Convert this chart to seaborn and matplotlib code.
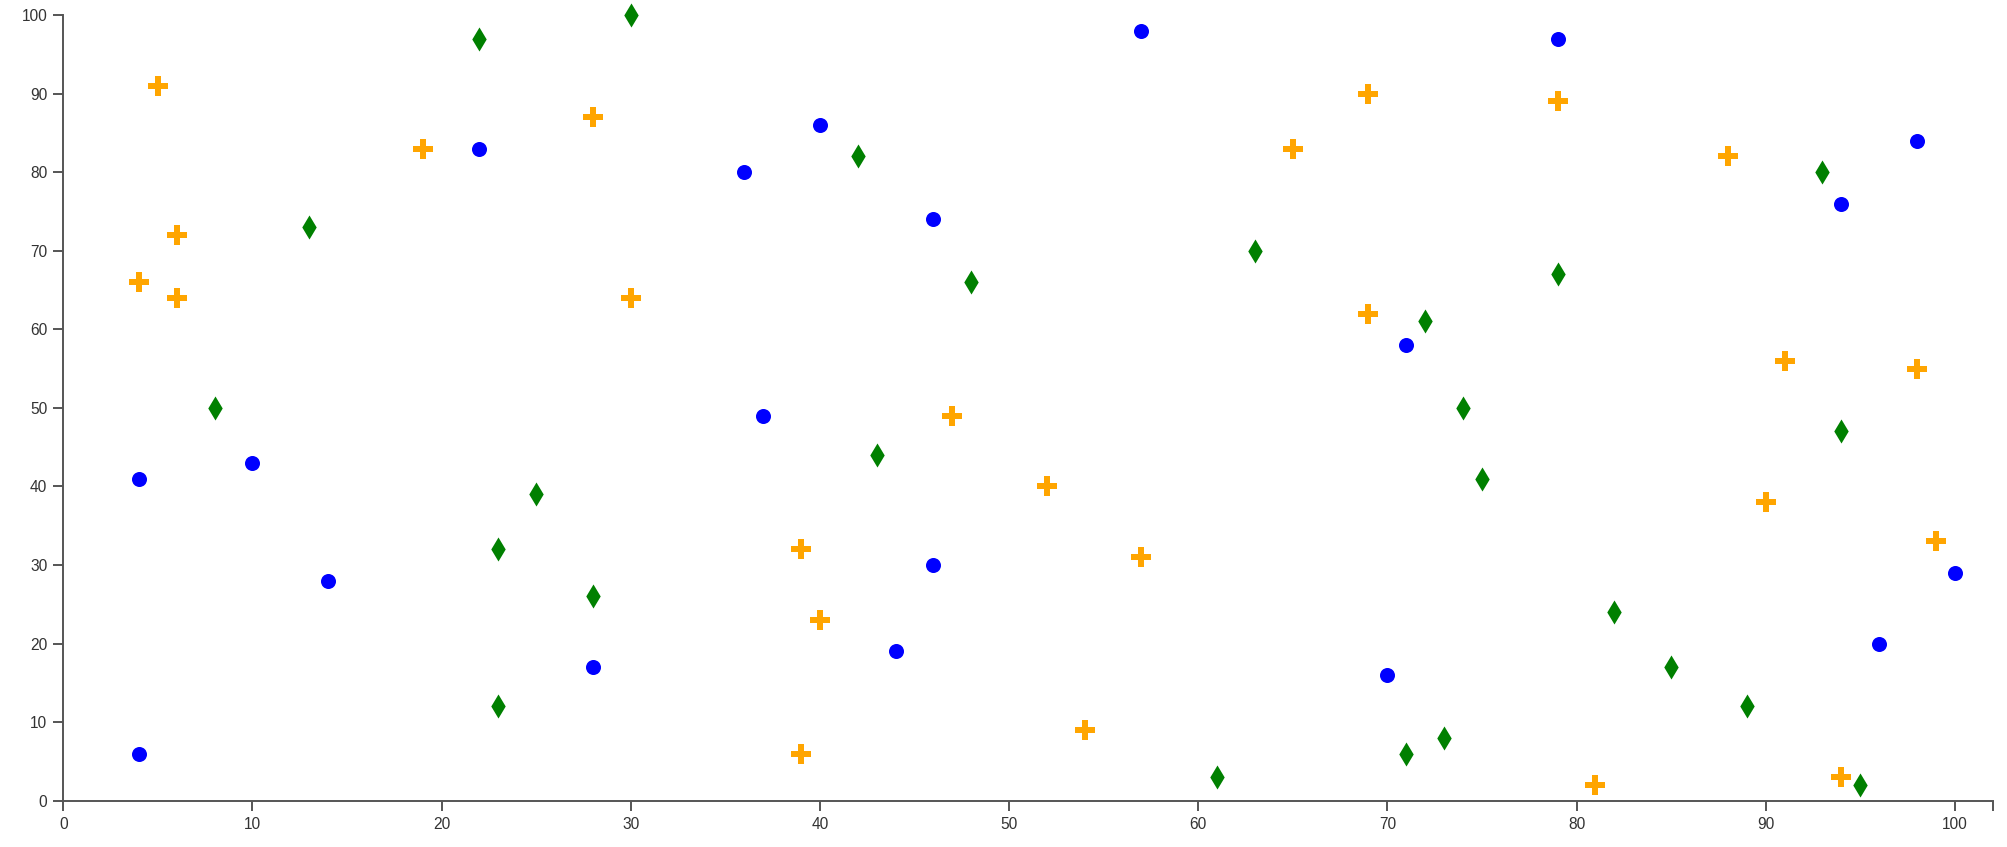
import pandas as pd
import matplotlib
matplotlib.use("Agg")
import matplotlib.pyplot as plt
import seaborn as sns

# --------------------------
# Data
# --------------------------
circle_x = [4, 4, 10, 14, 22, 28, 36, 37, 40, 44, 46, 46, 57, 70, 71, 79, 94, 96, 98, 100]
circle_y = [41, 6, 43, 28, 83, 17, 80, 49, 86, 19, 74, 30, 98, 16, 58, 97, 76, 20, 84, 29]

cross_x = [4, 5, 6, 6, 19, 28, 30, 39, 39, 40, 47, 52, 54, 57, 65, 69, 69, 79, 81, 88,
           90, 91, 94, 98, 99]
cross_y = [66, 91, 72, 64, 83, 87, 64, 32, 6, 23, 49, 40, 9, 31, 83, 90, 62, 89, 2, 82,
           38, 56, 3, 55, 33]

diamond_x = [8, 13, 22, 23, 23, 25, 28, 30, 42, 43, 48, 61, 63, 71, 72, 73, 74, 75, 79, 82,
             85, 89, 93, 94, 95]
diamond_y = [50, 73, 97, 32, 12, 39, 26, 100, 82, 44, 66, 3, 70, 6, 61, 8, 50, 41, 67, 24,
             17, 12, 80, 47, 2]

x_ticks = list(range(0, 101, 10))
y_ticks = list(range(0, 101, 10))

circles = pd.DataFrame({"x": circle_x, "y": circle_y})
crosses = pd.DataFrame({"x": cross_x, "y": cross_y})
diamonds = pd.DataFrame({"x": diamond_x, "y": diamond_y})

sns.set_style("ticks")
plt.rcParams["font.family"] = ["Liberation Sans", "DejaVu Sans"]

fig = plt.figure(figsize=(20.08, 8.47), dpi=100)
ax = fig.add_axes([0.0315, 0.0547, 0.9609, 0.9276])

sns.scatterplot(data=circles, x="x", y="y", ax=ax, marker="o", color="blue",
                s=117, linewidth=0, clip_on=False, legend=False, zorder=3)
sns.scatterplot(data=crosses, x="x", y="y", ax=ax, marker="P", color="orange",
                s=196, linewidth=0, clip_on=False, legend=False, zorder=3)
sns.scatterplot(data=diamonds, x="x", y="y", ax=ax, marker="d", color="green",
                s=150, linewidth=0, clip_on=False, legend=False, zorder=3)

ax.set_xlim(0, 102)
ax.set_ylim(0, 100)
ax.set_xticks(x_ticks)
ax.set_yticks(y_ticks)
# outer tick at the end of the x domain
ax.set_xticks([102], minor=True)
ax.set_xlabel("")
ax.set_ylabel("")

sns.despine(ax=ax)
for side in ["left", "bottom"]:
    ax.spines[side].set_color("#555555")
    ax.spines[side].set_linewidth(1.4)

ax.tick_params(which="both", length=7.5, width=1.4, color="#555555",
               labelsize=11.2, labelcolor="#333333", pad=4)
ax.tick_params(axis="x", which="minor", labelbottom=False)

plt.savefig("out.png", dpi=100)
